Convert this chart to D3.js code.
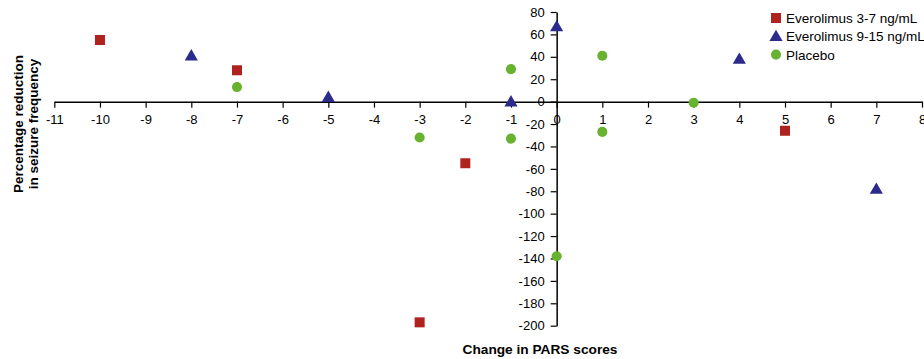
<!DOCTYPE html>
<html><head><meta charset="utf-8">
<script src="https://cdn.jsdelivr.net/npm/d3@7/dist/d3.min.js"></script>
<style>body{margin:0;background:#fff}svg{display:block}text{font-family:"Liberation Sans",Arial,sans-serif}</style>
</head><body>
<svg id="c" width="924" height="359"></svg>
<script>
const seriesNames = ["Everolimus 3-7 ng/mL","Everolimus 9-15 ng/mL","Placebo"];
const low = [{x:-10,y:55},{x:-7,y:28},{x:-3,y:-197},{x:-2,y:-55},{x:5,y:-26}];
const high = [{x:-8,y:41},{x:-5,y:4},{x:-1,y:0},{x:0,y:67},{x:4,y:38},{x:7,y:-78}];
const placebo = [{x:-7,y:13},{x:-3,y:-32},{x:-1,y:29},{x:-1,y:-33},{x:0,y:-138},{x:1,y:41},{x:1,y:-27},{x:3,y:-1}];
const xTicks = d3.range(-11,9,1);
const yTicks = d3.range(-200,81,20);
const colors = ["#b0221f","#2c2a8b","#67b22e"];

const svg = d3.select("#c");
const x = d3.scaleLinear().domain([-11,8]).range([54.3,922]);
const y = d3.scaleLinear().domain([-200,80]).range([325.7,12]);

// x axis
const xa = svg.append("g").attr("transform",`translate(0,${y(0)})`)
  .call(d3.axisBottom(x).tickValues(xTicks).tickSize(6).tickSizeOuter(0).tickFormat(d3.format("d")));
xa.select(".domain").attr("stroke","#000").attr("stroke-width",1.5);
xa.selectAll(".tick line").attr("stroke","#000").attr("stroke-width",1.2);
xa.selectAll(".tick text").attr("font-size",13).attr("fill","#000").attr("dy","1.05em").text(d=>d<0?"-"+Math.abs(d):d);

// y axis
const ya = svg.append("g").attr("transform",`translate(${x(0)},0)`)
  .call(d3.axisLeft(y).tickValues(yTicks).tickSize(6).tickSizeOuter(0).tickFormat(d=>d<0?"-"+Math.abs(d):d));
ya.select(".domain").attr("stroke","#000").attr("stroke-width",1.5);
ya.selectAll(".tick line").attr("stroke","#000").attr("stroke-width",1.2);
ya.selectAll(".tick text").attr("font-size",13).attr("fill","#000").attr("x",-12);

const sym = [d3.symbolSquare,d3.symbolTriangle,d3.symbolCircle];
const sizes = [100,75,80];
const data = [low,high,placebo];
data.forEach((arr,i)=>{
  svg.append("g").selectAll("path").data(arr).join("path")
    .attr("transform",d=>`translate(${x(d.x)},${y(d.y)+(i===1?1:0)})`)
    .attr("d",d3.symbol().type(sym[i]).size(sizes[i]))
    .attr("fill",colors[i]);
});

// legend
const lg = svg.append("g").attr("transform","translate(776,18)");
seriesNames.forEach((n,i)=>{
  const g = lg.append("g").attr("transform",`translate(0,${i*18.3})`);
  g.append("path").attr("d",d3.symbol().type(sym[i]).size(sizes[i])()).attr("fill",colors[i]).attr("transform",i===1?"translate(0,1)":null);
  g.append("text").attr("x",10).attr("y",5).attr("font-size",13.5).attr("fill","#000").text(n);
});

// titles
svg.append("text").attr("x",540).attr("y",353.5).attr("text-anchor","middle")
  .attr("font-size",13.7).attr("font-weight","bold").text("Change in PARS scores");
const yt = svg.append("text").attr("transform","translate(23,124) rotate(-90)")
  .attr("text-anchor","middle").attr("font-size",13.5).attr("font-weight","bold");
yt.append("tspan").attr("x",0).attr("dy",0).text("Percentage reduction");
yt.append("tspan").attr("x",0).attr("dy",15).text("in seizure frequency");
</script>
</body></html>
